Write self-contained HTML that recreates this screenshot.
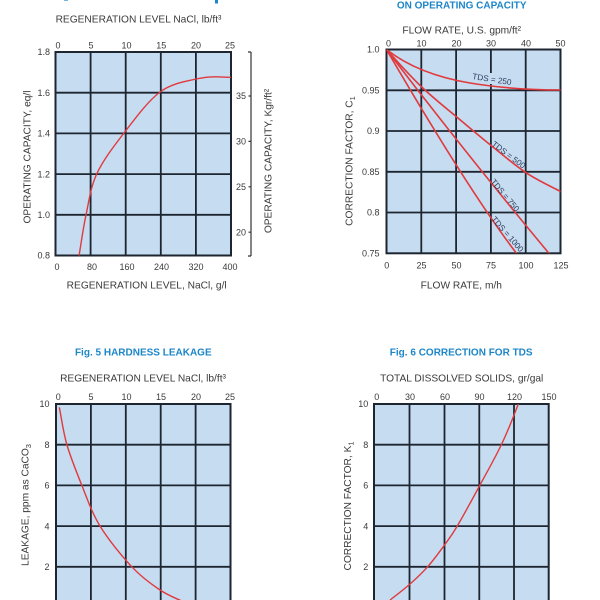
<!DOCTYPE html>
<html><head><meta charset="utf-8"><style>
html,body{margin:0;padding:0;background:#fff;}
svg{display:block;}
text{font-family:"Liberation Sans",Arial,sans-serif;fill:#3a3a3a;}
.t{font-size:9px;}
.ax{font-size:10.2px;}
.ti{font-size:10px;font-weight:bold;fill:#1c86c9;}
.g{stroke:#1d2630;stroke-width:1.8;fill:none;}
.b{stroke:#1d2630;stroke-width:2;fill:#c6dcf0;}
.c{stroke:#e03a3e;stroke-width:1.4;fill:none;}
.lb{font-size:8.2px;fill:#2d3e5e;}
</style></head><body>
<svg width="600" height="600" viewBox="0 0 600 600" xmlns="http://www.w3.org/2000/svg">
<defs>
<clipPath id="c1"><rect x="55.5" y="52" width="175.5" height="203.5"/></clipPath>
<clipPath id="c2"><rect x="386.5" y="49.5" width="174" height="203.8"/></clipPath>
<clipPath id="c3"><rect x="56" y="404" width="174.5" height="210"/></clipPath>
<clipPath id="c4"><rect x="374" y="404" width="174.7" height="210"/></clipPath>
</defs>

<!-- tiny fragment of cut-off title -->
<rect x="215" y="0" width="3" height="3.5" fill="#1c86c9"/>
<rect x="64" y="0" width="4" height="1" fill="#1c86c9" opacity="0.6"/>

<!-- ================= CHART 1 ================= -->
<text class="ax" x="138.5" y="22.5" text-anchor="middle">REGENERATION LEVEL NaCl, lb/ft³</text>
<rect class="b" x="55.5" y="52" width="175.5" height="203.5"/>
<path class="g" d="M90.6,52V255.5M125.7,52V255.5M160.8,52V255.5M195.9,52V255.5M55.5,92.7H231M55.5,133.4H231M55.5,174.1H231M55.5,214.8H231"/>
<path class="c" clip-path="url(#c1)" d="M79,256 C81.3,242.3 83.05,228.7 86,215 C88.95,201.3 90.4,187.7 96.7,174 C103,160.3 113.45,146.7 124,133 C134.55,119.3 148,101 160,92 C172,83 186.5,81.5 196,79 C205.5,77 211.2,76.7 217,76.8 C222.8,77 226.3,77.2 231,77.3"/>
<g class="t" text-anchor="middle">
<text x="58" y="48.3">0</text><text x="91" y="48.3">5</text><text x="126.5" y="48.3">10</text><text x="161.3" y="48.3">15</text><text x="196" y="48.3">20</text><text x="230" y="48.3">25</text>
<text x="57" y="270">0</text><text x="92" y="270">80</text><text x="127" y="270">160</text><text x="161.5" y="270">240</text><text x="196" y="270">320</text><text x="230" y="270">400</text>
</g>
<g class="t" text-anchor="end">
<text x="50" y="55.2">1.8</text><text x="50" y="95.9">1.6</text><text x="50" y="136.6">1.4</text><text x="50" y="177.3">1.2</text><text x="50" y="218">1.0</text><text x="50" y="258.7">0.8</text>
<text x="246" y="99.2">35</text><text x="246" y="144.6">30</text><text x="246" y="190">25</text><text x="246" y="235.4">20</text>
</g>
<path d="M251,52V256M248,52H251M248,256H251M248.5,96H251M248.5,141.4H251M248.5,186.8H251M248.5,232.2H251" stroke="#333" stroke-width="1.2" fill="none"/>
<text class="ax" x="146.7" y="288.5" text-anchor="middle">REGENERATION LEVEL, NaCl, g/l</text>
<text class="ax" transform="translate(30.5,157) rotate(-90)" text-anchor="middle">OPERATING CAPACITY,  eq/l</text>
<text class="ax" transform="translate(271.5,161) rotate(-90)" text-anchor="middle">OPERATING CAPACITY, Kgr/ft²</text>

<!-- ================= CHART 2 ================= -->
<text class="ti" x="461.7" y="8.5" text-anchor="middle">ON OPERATING CAPACITY</text>
<text class="ax" x="461.7" y="33.5" text-anchor="middle">FLOW RATE, U.S. gpm/ft²</text>
<rect class="b" x="386.5" y="49.5" width="174" height="203.8"/>
<path class="g" d="M421.3,49.5V253.3M456.1,49.5V253.3M490.9,49.5V253.3M525.7,49.5V253.3M386.5,90.3H560.5M386.5,131H560.5M386.5,171.8H560.5M386.5,212.5H560.5"/>
<rect x="488" y="73" width="6" height="11" fill="#c6dcf0"/>
<g clip-path="url(#c2)" class="c" style="stroke-width:1.6">
<path d="M386.5,49.5 C410,68 440,78 470,83 C500,88 530,90 561,90"/>
<path d="M386.5,49.5 C397.9,62.3 409.9,75.8 421.7,87 C433.5,98.2 445,107.2 456.7,117 C468.4,126.8 480.1,136.7 491.7,146 C503.3,155.3 514.6,165.1 526,172.7 C537.4,180.3 548.7,185.4 561,191.7"/>
<path d="M386.5,49.5 Q463,150 549.5,254"/>
<path d="M386.5,49.5 Q469.5,192 517,254"/>
</g>
<text class="lb" transform="translate(491.5,82) rotate(9)" text-anchor="middle">TDS = 250</text>
<text class="lb" transform="translate(507,157) rotate(37)" text-anchor="middle">TDS = 500</text>
<text class="lb" transform="translate(503,197) rotate(50)" text-anchor="middle">TDS = 750</text>
<text class="lb" transform="translate(505.5,236) rotate(49)" text-anchor="middle">TDS = 1000</text>
<g class="t" text-anchor="middle">
<text x="388.5" y="46.7">0</text><text x="421.5" y="46.7">10</text><text x="456.5" y="46.7">20</text><text x="491" y="46.7">30</text><text x="526" y="46.7">40</text><text x="560.5" y="46.7">50</text>
<text x="386.7" y="268.3">0</text><text x="421.5" y="268.3">25</text><text x="456.5" y="268.3">50</text><text x="491" y="268.3">75</text><text x="526" y="268.3">100</text><text x="561" y="268.3">125</text>
</g>
<g class="t" text-anchor="end">
<text x="379.5" y="52.7">1.0</text><text x="379.5" y="93.5">0.95</text><text x="379.5" y="134.2">0.9</text><text x="379.5" y="175">0.85</text><text x="379.5" y="215.7">0.8</text><text x="379.5" y="256.5">0.75</text>
</g>
<text class="ax" x="461.3" y="288.5" text-anchor="middle">FLOW RATE, m/h</text>
<text class="ax" transform="translate(352.5,161) rotate(-90)" text-anchor="middle">CORRECTION FACTOR, C<tspan font-size="7.5" dy="2.5">1</tspan></text>

<!-- ================= CHART 3 ================= -->
<text class="ti" x="143.3" y="355.5" text-anchor="middle">Fig. 5 HARDNESS LEAKAGE</text>
<text class="ax" x="143" y="381.5" text-anchor="middle">REGENERATION LEVEL NaCl, lb/ft³</text>
<rect class="b" x="56" y="404" width="174.5" height="210"/>
<path class="g" d="M90.9,404V600M125.8,404V600M160.7,404V600M195.6,404V600M56,444.7H230.5M56,485.4H230.5M56,526.1H230.5M56,566.8H230.5"/>
<path class="c" clip-path="url(#c3)" d="M59.3,407.3 C61.8,419.5 63,431.1 66.7,444 C70.4,457 76.2,471.3 81.7,485 C87.2,498.7 91.7,512.4 100,526 C108.3,539.6 121.7,556 131.7,566.7 C141.7,577.4 151,584 160,590 C169.1,596.1 177.3,598.7 186,603"/>
<g class="t" text-anchor="middle">
<text x="58.3" y="400">0</text><text x="91" y="400">5</text><text x="126.5" y="400">10</text><text x="161" y="400">15</text><text x="196" y="400">20</text><text x="230" y="400">25</text>
</g>
<g class="t" text-anchor="end">
<text x="49.5" y="407.2">10</text><text x="49.5" y="447.9">8</text><text x="49.5" y="488.6">6</text><text x="49.5" y="529.3">4</text><text x="49.5" y="570">2</text>
</g>
<text class="ax" transform="translate(28.5,505) rotate(-90)" text-anchor="middle">LEAKAGE, ppm as CaCO<tspan font-size="7.5" dy="2.5">3</tspan></text>

<!-- ================= CHART 4 ================= -->
<text class="ti" x="461.2" y="355.5" text-anchor="middle">Fig. 6 CORRECTION FOR TDS</text>
<text class="ax" x="461.7" y="381.5" text-anchor="middle">TOTAL DISSOLVED SOLIDS, gr/gal</text>
<rect class="b" x="374" y="404" width="174.7" height="210"/>
<path class="g" d="M409.5,404V600M444.5,404V600M479.3,404V600M514,404V600M374,444.7H548.7M374,485.4H548.7M374,526.1H548.7M374,566.8H548.7"/>
<path class="c" clip-path="url(#c4)" d="M390,600 C396.3,595.2 403.7,589.6 410,584 C416.3,578.5 421.9,573.3 427.7,566.7 C433.5,560.1 440.1,551.1 445,544.3 C449.9,537.5 451.5,535.9 457.3,526 C463.1,516.1 472.6,498.7 480,485 C487.4,471.3 495.3,457.5 501.7,444 C508.1,430.5 513.1,417.7 518.3,404 C520,399 521,397 522,394"/>
<g class="t" text-anchor="middle">
<text x="376.7" y="400">0</text><text x="410" y="400">30</text><text x="445" y="400">60</text><text x="479.5" y="400">90</text><text x="514.5" y="400">120</text><text x="549" y="400">150</text>
</g>
<g class="t" text-anchor="end">
<text x="368.3" y="407.2">10</text><text x="368.3" y="447.9">8</text><text x="368.3" y="488.6">6</text><text x="368.3" y="529.3">4</text><text x="368.3" y="570">2</text>
</g>
<text class="ax" transform="translate(351,506) rotate(-90)" text-anchor="middle">CORRECTION FACTOR, K<tspan font-size="7.5" dy="2.5">1</tspan></text>
</svg>
</body></html>
